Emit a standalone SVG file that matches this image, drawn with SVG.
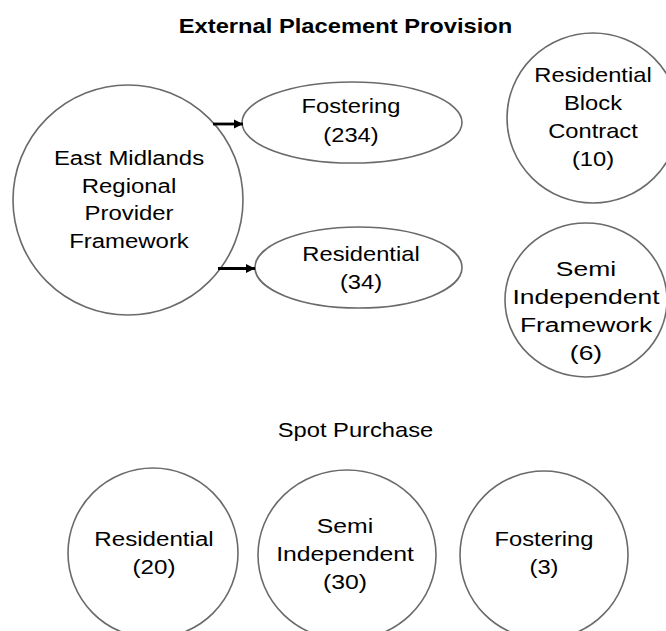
<svg xmlns="http://www.w3.org/2000/svg" width="666" height="631" viewBox="0 0 666 631">
<style>
.n{fill:#fff;stroke:#6a6a6a;stroke-width:1.6}
.t{font-family:"Liberation Sans",Arial,sans-serif;font-size:21px;fill:#000;text-anchor:middle}
.b{font-weight:bold}
.c{stroke:#000;stroke-width:2.8;fill:none;marker-end:url(#ah)}
</style>
<defs>
<marker id="ah" markerUnits="userSpaceOnUse" viewBox="0 0 10 10" markerWidth="9" markerHeight="12" refX="10" refY="5" orient="auto">
<path d="M0,0 L10,5 L0,10 z" fill="#000"/>
</marker>
</defs>
<rect width="666" height="631" fill="#fff"/>
<g id="title">
<text class="t b" transform="translate(345.5,0) scale(1.13,1)" x="0" y="33">External Placement Provision</text>
</g>
<g id="emrpf">
<circle class="n" cx="128" cy="200" r="115"/>
<text class="t" transform="translate(129,0) scale(1.14,1)"><tspan x="0" y="165">East Midlands</tspan><tspan x="0" y="193">Regional</tspan><tspan x="0" y="220.5">Provider</tspan><tspan x="0" y="248">Framework</tspan></text>
</g>
<g id="fostering">
<ellipse class="n" cx="352" cy="122.5" rx="110" ry="40.5"/>
<text class="t" transform="translate(351,0) scale(1.13,1)"><tspan x="0" y="113.5">Fostering</tspan><tspan x="0" y="142">(234)</tspan></text>
</g>
<g id="residential">
<ellipse class="n" cx="358.5" cy="267.5" rx="103.5" ry="40.5"/>
<text class="t" transform="translate(361,0) scale(1.13,1)"><tspan x="0" y="261">Residential</tspan><tspan x="0" y="289">(34)</tspan></text>
</g>
<g id="rbc">
<ellipse class="n" cx="593" cy="118" rx="86" ry="85"/>
<text class="t" transform="translate(593,0) scale(1.13,1)"><tspan x="0" y="81.7">Residential</tspan><tspan x="0" y="110">Block</tspan><tspan x="0" y="138.3">Contract</tspan><tspan x="0" y="166">(10)</tspan></text>
</g>
<g id="sif">
<ellipse class="n" cx="586" cy="300" rx="81" ry="77"/>
<text class="t" transform="translate(586,0) scale(1.26,1)"><tspan x="0" y="276.5">Semi</tspan><tspan x="0" y="304.5">Independent</tspan><tspan x="0" y="332.5">Framework</tspan><tspan x="0" y="360.5">(6)</tspan></text>
</g>
<g id="spot">
<text class="t" transform="translate(355.5,0) scale(1.13,1)" x="0" y="436.7">Spot Purchase</text>
</g>
<g id="sp-res">
<circle class="n" cx="153" cy="553" r="85"/>
<text class="t" transform="translate(154,0) scale(1.15,1)"><tspan x="0" y="546.5">Residential</tspan><tspan x="0" y="574.5">(20)</tspan></text>
</g>
<g id="sp-semi">
<ellipse class="n" cx="347" cy="555" rx="89" ry="85"/>
<text class="t" transform="translate(345,0) scale(1.18,1)"><tspan x="0" y="533">Semi</tspan><tspan x="0" y="561">Independent</tspan><tspan x="0" y="589">(30)</tspan></text>
</g>
<g id="sp-fost">
<circle class="n" cx="544" cy="555" r="84"/>
<text class="t" transform="translate(544,0) scale(1.13,1)"><tspan x="0" y="546.5">Fostering</tspan><tspan x="0" y="574.5">(3)</tspan></text>
</g>
<g id="connectors">
<line class="c" x1="213" y1="124" x2="243" y2="124"/>
<line class="c" x1="218" y1="268.5" x2="255" y2="268.5"/>
</g>
</svg>
